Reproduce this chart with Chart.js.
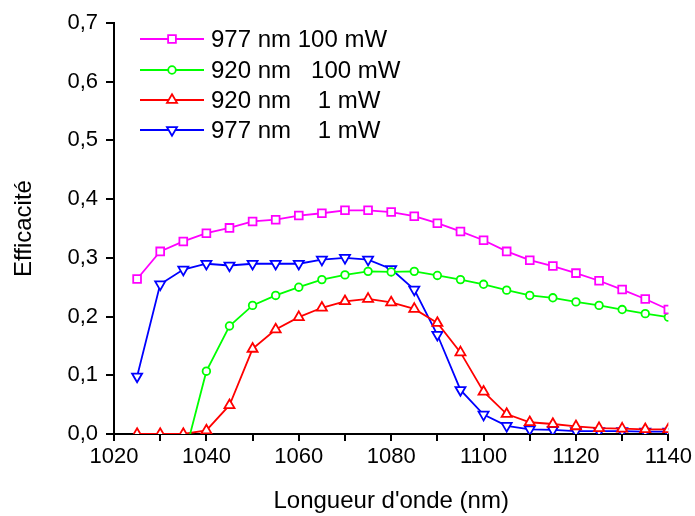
<!DOCTYPE html>
<html>
<head>
<meta charset="utf-8">
<script src="https://cdn.jsdelivr.net/npm/chart.js@4.4.1/dist/chart.umd.min.js"></script>
<style>
html,body{margin:0;padding:0;background:#fff;}
#wrap{width:695px;height:516px;}
</style>
</head>
<body>
<div id="wrap"><canvas id="c" width="695" height="516"></canvas></div>
<script>
const wavelengths = [1025,1030,1035,1040,1045,1050,1055,1060,1065,1070,1075,1080,1085,1090,1095,1100,1105,1110,1115,1120,1125,1130,1135,1140];
const s977_100 = [0.264,0.311,0.328,0.342,0.351,0.362,0.365,0.372,0.376,0.381,0.381,0.378,0.371,0.359,0.345,0.330,0.311,0.296,0.286,0.274,0.261,0.246,0.230,0.212];
const s920_100 = [null,null,-0.045,0.107,0.184,0.219,0.236,0.250,0.263,0.271,0.277,0.276,0.277,0.270,0.263,0.255,0.245,0.236,0.232,0.225,0.219,0.212,0.205,0.199];
const s920_1 = [0.0,0.0,0.0,0.006,0.049,0.145,0.178,0.199,0.215,0.226,0.230,0.224,0.213,0.189,0.139,0.072,0.034,0.020,0.017,0.013,0.010,0.009,0.008,0.008];
const s977_1 = [0.098,0.255,0.280,0.290,0.287,0.290,0.290,0.290,0.297,0.300,0.297,0.281,0.246,0.169,0.075,0.033,0.014,0.008,0.007,0.005,0.005,0.005,0.004,0.004];
const seriesLabels = ["977 nm 100 mW","920 nm   100 mW","920 nm    1 mW","977 nm    1 mW"];
const xTitle = "Longueur d'onde (nm)";
const yTitle = "Efficacité";

function pts(arr){ return wavelengths.map((x,i)=>({x:x,y:arr[i]})); }

const FONT = '"Liberation Sans", Arial, sans-serif';

const styles = [
  {color:'#FF00FF', pointStyle:'rect', radius:5.5, rot:0},
  {color:'#00FF00', pointStyle:'circle', radius:3.8, rot:0},
  {color:'#FF0000', pointStyle:'triangle', radius:5.8, rot:0},
  {color:'#0000FF', pointStyle:'triangle', radius:5.8, rot:180}
];
const allData = [s977_100, s920_100, s920_1, s977_1];

const datasets = allData.map((arr,i)=>({
  label: seriesLabels[i],
  data: pts(arr),
  borderColor: styles[i].color,
  backgroundColor: '#ffffff',
  pointBackgroundColor: '#ffffff',
  pointBorderColor: styles[i].color,
  pointStyle: styles[i].pointStyle,
  pointRadius: styles[i].radius,
  pointRotation: styles[i].rot,
  pointBorderWidth: 1.8,
  borderWidth: 1.8,
  tension: 0,
  spanGaps: false
}));

function drawMarker(ctx, style, x, y){
  const r = style.radius;
  ctx.save();
  ctx.fillStyle = '#fff';
  ctx.strokeStyle = style.color;
  ctx.lineWidth = 1.8;
  ctx.beginPath();
  if (style.pointStyle === 'rect') {
    const s = r * Math.SQRT1_2;
    ctx.rect(x - s, y - s, 2*s, 2*s);
  } else if (style.pointStyle === 'circle') {
    ctx.arc(x, y, r, 0, Math.PI*2);
  } else {
    ctx.translate(x, y);
    ctx.rotate(style.rot * Math.PI / 180);
    const a = 2*Math.PI/3;
    let rad = 0;
    ctx.moveTo(Math.sin(rad) * r, -Math.cos(rad) * r);
    rad += a;
    ctx.lineTo(Math.sin(rad) * r, -Math.cos(rad) * r);
    rad += a;
    ctx.lineTo(Math.sin(rad) * r, -Math.cos(rad) * r);
    ctx.closePath();
  }
  ctx.fill();
  ctx.stroke();
  ctx.restore();
}

const legendPlugin = {
  id: 'customLegend',
  afterDraw(chart){
    const ctx = chart.ctx;
    const rows = [39, 70, 100, 130];
    ctx.save();
    ctx.font = '24px ' + FONT;
    ctx.textBaseline = 'middle';
    seriesLabels.forEach((lab,i)=>{
      const y = rows[i];
      ctx.strokeStyle = styles[i].color;
      ctx.lineWidth = 1.8;
      ctx.beginPath();
      ctx.moveTo(140, y);
      ctx.lineTo(204, y);
      ctx.stroke();
      drawMarker(ctx, styles[i], 172, y);
      ctx.fillStyle = '#000';
      ctx.fillText(lab, 211, y + 1);
    });
    ctx.restore();
  }
};

new Chart(document.getElementById('c'), {
  type: 'line',
  data: { datasets: datasets },
  options: {
    responsive: false,
    animation: false,
    devicePixelRatio: 1,
    layout: { padding: { top: 23, right: 25, left: 0, bottom: 0 } },
    plugins: { legend: { display: false }, tooltip: { enabled: false } },
    scales: {
      x: {
        type: 'linear',
        min: 1020, max: 1140,
        afterFit(scale){ scale.height = 82; },
        ticks: {
          stepSize: 10,
          autoSkip: false,
          maxRotation: 0,
          padding: 3,
          color: '#000',
          font: { family: FONT, size: 22 },
          callback: (v) => (v % 20 === 0 ? String(v) : '')
        },
        grid: { drawOnChartArea: false, tickLength: 7, color: '#000', lineWidth: 2 },
        border: { display: true, color: '#000', width: 2 },
        title: {
          display: true, text: xTitle, color: '#000',
          font: { family: FONT, size: 24 },
          padding: { top: 0, bottom: 0 }
        }
      },
      y: {
        min: 0, max: 0.7,
        afterFit(scale){ scale.width = 114; },
        ticks: {
          stepSize: 0.1,
          padding: 8,
          color: '#000',
          font: { family: FONT, size: 22 },
          callback: (v) => v.toFixed(1).replace('.', ',')
        },
        grid: { drawOnChartArea: false, tickLength: 8, color: '#000', lineWidth: 2 },
        border: { display: true, color: '#000', width: 2 },
        title: {
          display: true, text: yTitle, color: '#000',
          font: { family: FONT, size: 24 },
          padding: { top: 10, bottom: 0 }
        }
      }
    }
  },
  plugins: [legendPlugin]
});
</script>
</body>
</html>
